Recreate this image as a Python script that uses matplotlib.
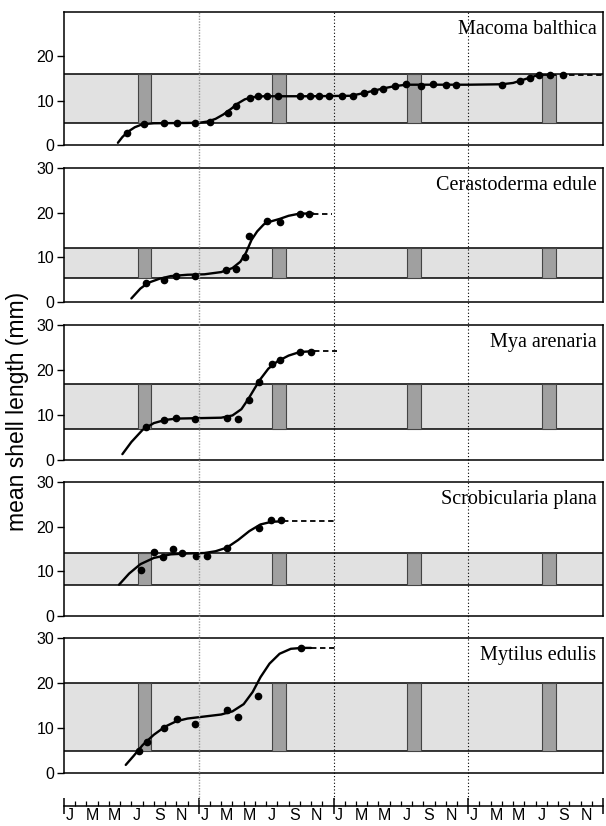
import matplotlib
matplotlib.use("Agg")
import matplotlib.pyplot as plt

plt.rcParams['font.family'] = ['Liberation Sans', 'DejaVu Sans']

# Especies (de arriba a abajo)
species = ['Macoma balthica', 'Cerastoderma edule', 'Mya arenaria',
           'Scrobicularia plana', 'Mytilus edulis']

# Banda gris clara (mm)
band_low = [5.0, 5.3, 7.0, 7.0, 5.0]
band_high = [16.0, 12.0, 17.0, 14.0, 20.0]

# Inicio de las barras oscuras (meses desde el primer enero)
bar_start = [6.55, 18.55, 30.55, 42.6]
bar_len = 1.2

# Puntos medidos (mes, mm)
macoma_x = [5.6, 7.1, 8.9, 10.1, 11.7, 13.0, 14.6, 15.3, 16.6, 17.3, 18.1, 19.1,
            21.0, 21.9, 22.7, 23.6, 24.8, 25.7, 26.7, 27.6, 28.4, 29.5, 30.5,
            31.8, 32.9, 34.0, 34.9, 39.0, 40.6, 41.5, 42.3, 43.3, 44.4]
macoma_y = [2.7, 4.8, 4.85, 4.85, 4.85, 5.3, 7.2, 8.9, 10.5, 11.0, 11.0, 11.0,
            11.0, 11.0, 11.0, 11.0, 11.0, 11.0, 11.7, 12.2, 12.7, 13.3, 13.7,
            13.4, 13.7, 13.6, 13.6, 13.6, 14.4, 15.0, 15.8, 15.9, 15.9]
cerasto_x = [7.3, 8.9, 10.0, 11.7, 14.4, 15.3, 16.1, 16.5, 18.1, 19.2, 21.0, 21.8]
cerasto_y = [4.3, 5.0, 5.9, 5.9, 7.2, 7.4, 10.0, 14.7, 18.2, 18.0, 19.8, 19.8]
mya_x = [7.3, 8.9, 10.0, 11.65, 14.5, 15.5, 16.5, 17.35, 18.5, 19.2, 21.0, 22.0]
mya_y = [7.3, 8.9, 9.3, 9.2, 9.3, 9.1, 13.3, 17.4, 21.3, 22.2, 24.1, 24.1]
scrob_x = [6.9, 8.0, 8.8, 9.7, 10.55, 11.75, 12.7, 14.5, 17.4, 18.4, 19.3]
scrob_y = [10.2, 14.3, 13.1, 15.0, 14.0, 13.5, 13.5, 15.2, 19.8, 21.4, 21.4]
mytilus_x = [6.7, 7.4, 8.9, 10.1, 11.7, 14.5, 15.5, 17.3, 21.15]
mytilus_y = [4.8, 6.8, 10.0, 12.0, 10.9, 14.1, 12.4, 17.1, 27.8]

# Curvas ajustadas
macoma_cx = [4.8, 5.2, 5.7, 6.3, 7.0, 8.0, 10.0, 12.0, 12.8, 13.5, 14.2, 14.9,
             15.5, 16.1, 16.8, 17.8, 19.0, 22.0, 25.5, 26.5, 27.5, 28.5, 29.5,
             30.5, 32.0, 36.0, 39.0, 40.0, 41.0, 42.0, 42.6]
macoma_cy = [0.5, 1.8, 3.0, 4.0, 4.7, 4.9, 4.95, 5.0, 5.3, 5.9, 6.9, 8.2,
             9.4, 10.3, 10.8, 11.0, 11.0, 11.0, 11.1, 11.6, 12.2, 12.8, 13.3,
             13.6, 13.6, 13.6, 13.7, 14.0, 14.8, 15.6, 15.8]
cerasto_cx = [6.0, 6.8, 7.5, 8.5, 9.5, 11.0, 12.5, 14.0, 15.0, 15.7, 16.2,
              16.7, 17.2, 17.8, 18.5, 19.2, 20.0, 21.0, 22.2]
cerasto_cy = [0.8, 3.0, 4.3, 5.2, 5.8, 6.1, 6.2, 6.7, 7.6, 9.0, 11.0,
              13.9, 15.8, 17.4, 18.1, 18.6, 19.3, 19.8, 19.8]
mya_cx = [5.2, 6.0, 7.0, 8.0, 9.0, 10.0, 12.0, 14.0, 15.0, 15.8, 16.4, 17.0,
          17.5, 18.2, 19.0, 20.0, 21.0, 22.3]
mya_cy = [1.3, 4.0, 6.7, 8.2, 8.9, 9.2, 9.3, 9.4, 9.9, 11.3, 13.5, 16.0,
          18.0, 20.3, 21.9, 23.2, 24.0, 24.2]
scrob_cx = [4.9, 5.8, 6.8, 8.0, 9.5, 11.0, 12.5, 13.5, 14.5, 15.5, 16.5,
            17.5, 18.5, 19.5]
scrob_cy = [7.0, 9.5, 11.6, 13.0, 13.8, 14.0, 14.1, 14.5, 15.3, 17.0, 19.0,
            20.5, 21.1, 21.2]
mytilus_cx = [5.5, 6.2, 7.0, 8.0, 9.0, 10.0, 11.0, 12.0, 13.0, 14.0, 15.0,
              16.0, 16.8, 17.5, 18.3, 19.2, 20.2, 21.2, 22.0]
mytilus_cy = [1.8, 3.8, 6.2, 8.5, 10.3, 11.5, 12.1, 12.4, 12.7, 13.0, 13.7,
              15.3, 18.0, 21.3, 24.3, 26.5, 27.6, 27.8, 27.8]

# Tramo discontinuo final (desde, hasta)
dash_from = [42.6, 22.2, 22.3, 19.5, 22.0]
dash_to = [48.0, 23.9, 24.3, 24.1, 24.1]

points_x = [macoma_x, cerasto_x, mya_x, scrob_x, mytilus_x]
points_y = [macoma_y, cerasto_y, mya_y, scrob_y, mytilus_y]
curve_x = [macoma_cx, cerasto_cx, mya_cx, scrob_cx, mytilus_cx]
curve_y = [macoma_cy, cerasto_cy, mya_cy, scrob_cy, mytilus_cy]

month_labels = ['J', 'M', 'M', 'J', 'S', 'N']
n_years = 4

W, H = 606, 826
fig = plt.figure(figsize=(W / 100, H / 100), dpi=100)

x0, x1 = 64, 603
panel_px = [(12, 145), (168, 302), (325, 460), (482, 616), (638, 773)]

def fbox(top, bottom):
    return [x0 / W, 1 - bottom / H, (x1 - x0) / W, (bottom - top) / H]

for i, (top, bot) in enumerate(panel_px):
    ax = fig.add_axes(fbox(top, bot))
    ax.set_xlim(0, 12 * n_years)
    ax.set_ylim(0, 30)
    # banda
    ax.axhspan(band_low[i], band_high[i], color='#e1e1e1', lw=0, zorder=1)
    ax.axhline(band_low[i], color='k', lw=1.1, zorder=2)
    ax.axhline(band_high[i], color='k', lw=1.1, zorder=2)
    for b in bar_start:
        ax.fill_between([b, b + bar_len], band_low[i], band_high[i],
                        facecolor='#a0a0a0', edgecolor='#444444', lw=0.8, zorder=2)
    ax.plot(curve_x[i], curve_y[i], color='k', lw=1.7, zorder=4,
            solid_capstyle='round')
    ax.plot([dash_from[i], dash_to[i]], [curve_y[i][-1], curve_y[i][-1]],
            color='k', lw=1.3, ls=(0, (3, 2)), zorder=4)
    ax.plot(points_x[i], points_y[i], 'o', color='k', ms=4.5, zorder=5)

    ax.text(0.988, 0.87, species[i], transform=ax.transAxes, ha='right',
            va='center', fontsize=14.5, family=['Liberation Serif', 'DejaVu Serif'])

    ax.set_yticks([0, 10, 20] if i == 0 else [0, 10, 20, 30])
    ax.set_xticks([])
    ax.tick_params(axis='y', direction='out', length=5, width=1, pad=2,
                   labelsize=11.5)
    for s in ax.spines.values():
        s.set_linewidth(1.1)

# Eje de meses
base = 806
axm = fig.add_axes([x0 / W, 1 - base / H, (x1 - x0) / W, 26 / H])
axm.set_xlim(0, 12 * n_years)
axm.set_ylim(0, 1)
axm.patch.set_visible(False)
for s in ['top', 'left', 'right']:
    axm.spines[s].set_visible(False)
axm.spines['bottom'].set_linewidth(1.1)
axm.set_yticks([])
axm.set_xticks(range(0, 12 * n_years + 1, 12))
axm.set_xticks(range(0, 12 * n_years + 1), minor=True)
axm.set_xticklabels([])
axm.tick_params(axis='x', which='major', direction='inout', length=11, width=1.1)
axm.tick_params(axis='x', which='minor', direction='in', length=3.8, width=0.9)
for y in range(n_years):
    for k, lab in enumerate(month_labels):
        axm.text(12 * y + 2 * k + 0.5, -0.38, lab, ha='center', va='center',
                 fontsize=11.5, clip_on=False)

# Líneas punteadas de cambio de año
axo = fig.add_axes([x0 / W, 1 - 800 / H, (x1 - x0) / W, (800 - 12) / H])
axo.set_xlim(0, 12 * n_years)
axo.set_ylim(0, 1)
axo.axis('off')
axo.axvline(12, color='#9a9a9a', lw=1.0, ls=(0, (1, 1)))
for yb in range(2, n_years):
    axo.axvline(12 * yb, color='k', lw=0.8, ls=(0, (1, 2)))

fig.text(18 / W, 1 - 411 / H, 'mean shell length (mm)', rotation=90,
         ha='center', va='center', fontsize=16.5)

fig.savefig('out.png', dpi=100)
plt.close(fig)
